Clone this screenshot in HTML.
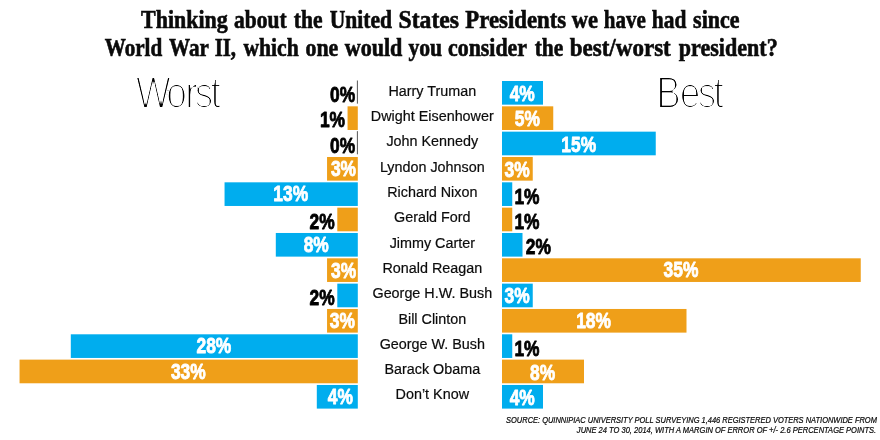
<!DOCTYPE html>
<html lang="en"><head><meta charset="utf-8"><title>Best/worst president poll</title>
<style>
html,body{margin:0;padding:0;background:#fff;}
body{width:880px;height:440px;overflow:hidden;}
svg{display:block;}
.ttl{font-family:"Liberation Serif",serif;font-weight:bold;font-size:24.4px;fill:#0a0a0a;stroke:#0a0a0a;stroke-width:0.6px;}
.nm{font-family:"Liberation Sans",sans-serif;font-size:15px;fill:#0c0c0c;stroke:#0c0c0c;stroke-width:0.2px;}
.pc{font-family:"Liberation Sans",sans-serif;font-weight:bold;font-size:22px;stroke-width:0.85px;stroke-linejoin:round;}
.big{font-family:"Liberation Sans",sans-serif;font-size:44.3px;fill:#000;letter-spacing:-3.4px;}
.src{font-family:"Liberation Sans",sans-serif;font-style:italic;font-size:8.4px;fill:#0a0a0a;stroke:#0a0a0a;stroke-width:0.22px;}
</style></head><body>
<svg width="880" height="440" viewBox="0 0 880 440">
<defs><filter id="thin" x="-5%" y="-5%" width="110%" height="110%"><feMorphology operator="erode" radius="1 1"/><feComponentTransfer><feFuncA type="linear" slope="1.25"/></feComponentTransfer></filter></defs>
<rect width="880" height="440" fill="#fff"/>
<g class="ttl">
<text transform="translate(141.1,27.6) scale(0.8992,1)">Thinking </text>
<text transform="translate(234.05,27.6) scale(0.8823,1)">about </text>
<text transform="translate(293.8,27.6) scale(0.8841,1)">the </text>
<text transform="translate(329.7,27.6) scale(0.885,1)">United </text>
<text transform="translate(398.53,27.6) scale(0.97,1)">States </text>
<text transform="translate(465.3,27.6) scale(0.9343,1)">Presidents </text>
<text transform="translate(571.8,27.6) scale(0.9226,1)">we </text>
<text transform="translate(603.8,27.6) scale(0.861,1)">have </text>
<text transform="translate(651.8,27.6) scale(0.8778,1)">had </text>
<text transform="translate(693.1,27.6) scale(0.9021,1)">since </text>
</g>
<g class="ttl">
<text transform="translate(104.7,55.6) scale(0.8662,1)">World </text>
<text transform="translate(169.05,55.6) scale(0.8661,1)">War </text>
<text transform="translate(214.7,55.6) scale(0.8506,1)">II, </text>
<text transform="translate(243.4,55.6) scale(0.8872,1)">which </text>
<text transform="translate(305.55,55.6) scale(0.895,1)">one </text>
<text transform="translate(344.7,55.6) scale(0.9057,1)">would </text>
<text transform="translate(408.4,55.6) scale(0.8879,1)">you </text>
<text transform="translate(448.05,55.6) scale(0.8969,1)">consider </text>
<text transform="translate(534.7,55.6) scale(0.8795,1)">the </text>
<text transform="translate(569.7,55.6) scale(0.9443,1)">best/worst </text>
<text transform="translate(678.8,55.6) scale(0.9045,1)">president? </text>
</g>
<g filter="url(#thin)"><text class="big" transform="translate(135.8,108) scale(0.84,1)" dx="0 -1.2 1.2 0 0">Worst</text></g>
<g filter="url(#thin)"><text class="big" transform="translate(656.3,108) scale(0.838,1)" dx="0 1.8 0.2 0">Best</text></g>
<rect x="356.90" y="80.50" width="0.9" height="23.15" fill="#444"/>
<text class="pc" transform="translate(342.60,101.50) scale(0.79,1)" text-anchor="middle" fill="#000" stroke="#000">0%</text>
<rect x="502.00" y="81.00" width="41.00" height="23.65" fill="#00adee"/>
<text class="pc" transform="translate(522.25,101.00) scale(0.79,1)" text-anchor="middle" fill="#fff" stroke="#fff">4%</text>
<text class="nm" transform="translate(432.3,95.80) scale(0.958,1)" text-anchor="middle">Harry Truman</text>
<rect x="347.55" y="106.33" width="10.25" height="23.65" fill="#ef9f19"/>
<text class="pc" transform="translate(332.50,127.40) scale(0.79,1)" text-anchor="middle" fill="#000" stroke="#000">1%</text>
<rect x="502.00" y="106.33" width="51.25" height="23.65" fill="#ef9f19"/>
<text class="pc" transform="translate(527.30,125.80) scale(0.79,1)" text-anchor="middle" fill="#fff" stroke="#fff">5%</text>
<text class="nm" transform="translate(432.3,121.10) scale(0.958,1)" text-anchor="middle">Dwight Eisenhower</text>
<rect x="356.90" y="131.16" width="0.9" height="23.15" fill="#444"/>
<text class="pc" transform="translate(342.62,152.50) scale(0.79,1)" text-anchor="middle" fill="#000" stroke="#000">0%</text>
<rect x="502.00" y="131.66" width="153.75" height="23.65" fill="#00adee"/>
<text class="pc" transform="translate(578.75,151.65) scale(0.79,1)" text-anchor="middle" fill="#fff" stroke="#fff">15%</text>
<text class="nm" transform="translate(432.3,146.40) scale(0.958,1)" text-anchor="middle">John Kennedy</text>
<rect x="327.05" y="156.99" width="30.75" height="23.65" fill="#ef9f19"/>
<text class="pc" transform="translate(343.50,176.00) scale(0.79,1)" text-anchor="middle" fill="#fff" stroke="#fff">3%</text>
<rect x="502.00" y="156.99" width="30.75" height="23.65" fill="#ef9f19"/>
<text class="pc" transform="translate(517.08,176.90) scale(0.79,1)" text-anchor="middle" fill="#fff" stroke="#fff">3%</text>
<text class="nm" transform="translate(432.3,171.70) scale(0.958,1)" text-anchor="middle">Lyndon Johnson</text>
<rect x="224.55" y="182.32" width="133.25" height="23.65" fill="#00adee"/>
<text class="pc" transform="translate(290.75,201.40) scale(0.79,1)" text-anchor="middle" fill="#fff" stroke="#fff">13%</text>
<rect x="502.00" y="182.32" width="10.25" height="23.65" fill="#00adee"/>
<text class="pc" transform="translate(527.00,203.90) scale(0.79,1)" text-anchor="middle" fill="#000" stroke="#000">1%</text>
<text class="nm" transform="translate(432.3,197.00) scale(0.958,1)" text-anchor="middle">Richard Nixon</text>
<rect x="337.30" y="207.65" width="20.50" height="23.65" fill="#ef9f19"/>
<text class="pc" transform="translate(322.05,229.20) scale(0.79,1)" text-anchor="middle" fill="#000" stroke="#000">2%</text>
<rect x="502.00" y="207.65" width="10.25" height="23.65" fill="#ef9f19"/>
<text class="pc" transform="translate(527.00,228.50) scale(0.79,1)" text-anchor="middle" fill="#000" stroke="#000">1%</text>
<text class="nm" transform="translate(432.3,222.30) scale(0.958,1)" text-anchor="middle">Gerald Ford</text>
<rect x="275.80" y="232.98" width="82.00" height="23.65" fill="#00adee"/>
<text class="pc" transform="translate(316.25,251.65) scale(0.79,1)" text-anchor="middle" fill="#fff" stroke="#fff">8%</text>
<rect x="502.00" y="232.98" width="20.50" height="23.65" fill="#00adee"/>
<text class="pc" transform="translate(538.30,253.90) scale(0.79,1)" text-anchor="middle" fill="#000" stroke="#000">2%</text>
<text class="nm" transform="translate(432.3,247.60) scale(0.958,1)" text-anchor="middle">Jimmy Carter</text>
<rect x="327.05" y="258.31" width="30.75" height="23.65" fill="#ef9f19"/>
<text class="pc" transform="translate(343.62,277.90) scale(0.79,1)" text-anchor="middle" fill="#fff" stroke="#fff">3%</text>
<rect x="502.00" y="258.31" width="358.75" height="23.65" fill="#ef9f19"/>
<text class="pc" transform="translate(681.00,276.80) scale(0.79,1)" text-anchor="middle" fill="#fff" stroke="#fff">35%</text>
<text class="nm" transform="translate(432.3,272.90) scale(0.958,1)" text-anchor="middle">Ronald Reagan</text>
<rect x="337.30" y="283.64" width="20.50" height="23.65" fill="#00adee"/>
<text class="pc" transform="translate(322.07,304.65) scale(0.79,1)" text-anchor="middle" fill="#000" stroke="#000">2%</text>
<rect x="502.00" y="283.64" width="30.75" height="23.65" fill="#00adee"/>
<text class="pc" transform="translate(517.08,303.00) scale(0.79,1)" text-anchor="middle" fill="#fff" stroke="#fff">3%</text>
<text class="nm" transform="translate(432.3,298.20) scale(0.958,1)" text-anchor="middle">George H.W. Bush</text>
<rect x="327.05" y="308.97" width="30.75" height="23.65" fill="#ef9f19"/>
<text class="pc" transform="translate(342.38,328.00) scale(0.79,1)" text-anchor="middle" fill="#fff" stroke="#fff">3%</text>
<rect x="502.00" y="308.97" width="184.50" height="23.65" fill="#ef9f19"/>
<text class="pc" transform="translate(593.58,327.65) scale(0.79,1)" text-anchor="middle" fill="#fff" stroke="#fff">18%</text>
<text class="nm" transform="translate(432.3,323.50) scale(0.958,1)" text-anchor="middle">Bill Clinton</text>
<rect x="70.80" y="334.30" width="287.00" height="23.65" fill="#00adee"/>
<text class="pc" transform="translate(213.88,353.00) scale(0.79,1)" text-anchor="middle" fill="#fff" stroke="#fff">28%</text>
<rect x="502.00" y="334.30" width="10.25" height="23.65" fill="#00adee"/>
<text class="pc" transform="translate(527.00,355.80) scale(0.79,1)" text-anchor="middle" fill="#000" stroke="#000">1%</text>
<text class="nm" transform="translate(432.3,348.80) scale(0.958,1)" text-anchor="middle">George W. Bush</text>
<rect x="19.55" y="359.63" width="338.25" height="23.65" fill="#ef9f19"/>
<text class="pc" transform="translate(188.30,379.00) scale(0.79,1)" text-anchor="middle" fill="#fff" stroke="#fff">33%</text>
<rect x="502.00" y="359.63" width="82.00" height="23.65" fill="#ef9f19"/>
<text class="pc" transform="translate(542.62,379.50) scale(0.79,1)" text-anchor="middle" fill="#fff" stroke="#fff">8%</text>
<text class="nm" transform="translate(432.3,374.10) scale(0.958,1)" text-anchor="middle">Barack Obama</text>
<rect x="316.80" y="384.96" width="41.00" height="23.65" fill="#00adee"/>
<text class="pc" transform="translate(340.32,403.90) scale(0.79,1)" text-anchor="middle" fill="#fff" stroke="#fff">4%</text>
<rect x="502.00" y="384.96" width="41.00" height="23.65" fill="#00adee"/>
<text class="pc" transform="translate(522.25,404.65) scale(0.79,1)" text-anchor="middle" fill="#fff" stroke="#fff">4%</text>
<text class="nm" transform="translate(432.3,399.40) scale(0.958,1)" text-anchor="middle">Don’t Know</text>
<text class="src" transform="translate(876.9,423) scale(0.891,1)" text-anchor="end">SOURCE: QUINNIPIAC UNIVERSITY POLL SURVEYING 1,446 REGISTERED VOTERS NATIONWIDE FROM</text>
<text class="src" transform="translate(876.2,433) scale(0.897,1)" text-anchor="end">JUNE 24 TO 30, 2014, WITH A MARGIN OF ERROR OF +/- 2.6 PERCENTAGE POINTS.</text>
</svg>
</body></html>
